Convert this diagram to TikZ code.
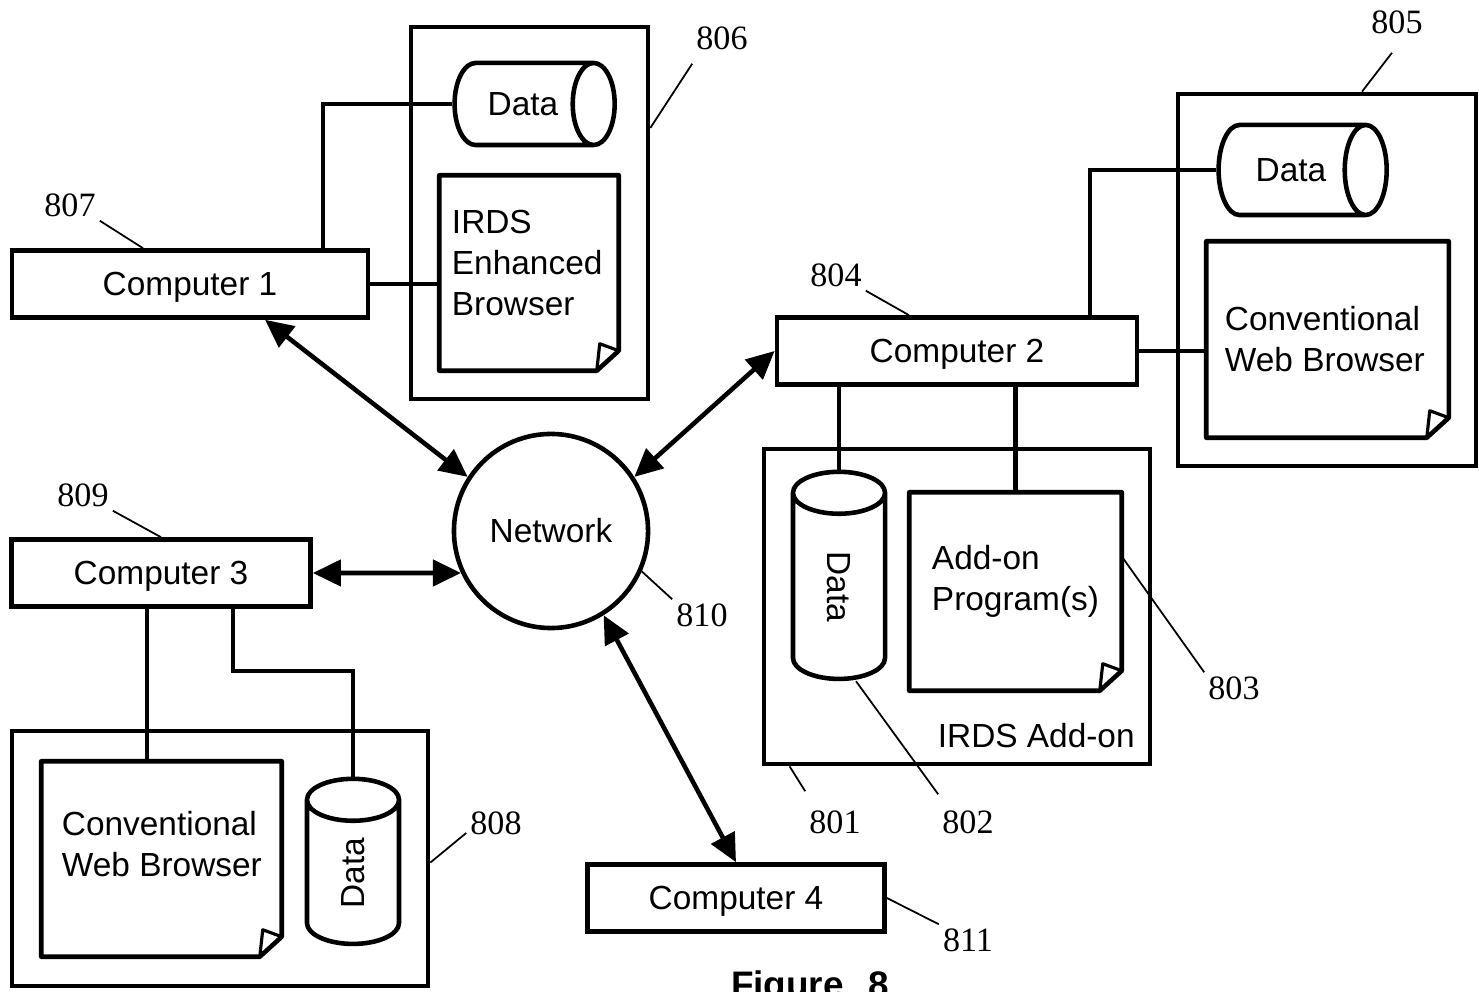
\documentclass[tikz,border=0pt]{standalone}
\usepackage{graphicx}
\usepackage{fontspec}
\setmainfont{Liberation Serif}
\setsansfont{Liberation Sans}
\usetikzlibrary{shapes.geometric,arrows.meta,positioning}

\tikzset{
  box/.style={draw, line width=1.3pt},
  comp/.style={box, minimum height=0.67cm, inner sep=0pt, text depth=0pt, font=\sffamily\fontsize{9.5}{11.7}\selectfont},
  group/.style={box, inner sep=0pt},
  data/.style={cylinder, box, aspect=1.8, inner sep=0pt, fill=white, font=\sffamily\fontsize{9.5}{11.7}\selectfont},
  sheet/.style={inner sep=0pt},
  sheettext/.style={inner sep=0pt, align=left, font=\sffamily\fontsize{9.5}{11.7}\selectfont},
  lbl/.style={inner sep=1pt, font=\rmfamily\fontsize{9.7}{11}\selectfont},
  lead/.style={line width=0.5pt},
  wire/.style={line width=1.3pt},
  link/.style={line width=1.3pt, {Triangle[length=2.8mm,width=2.6mm]}-{Triangle[length=2.8mm,width=2.6mm]}}
}

\begin{document}
\begin{tikzpicture}[x=0.01cm, y=-0.01cm]
   \useasboundingbox (0,0) rectangle (1479,992);
   \clip (0,0) rectangle (1479,992);
   % containers
   \foreach \pos/\name/\w/\h in {{(529.5,213)/f806/2.37cm/3.72cm}, {(1327,280)/f805/2.98cm/3.72cm},
                                 {(957,606.5)/f801/3.86cm/3.15cm}, {(220,858.5)/f808/4.16cm/2.55cm}}
   \node[group, minimum width=\w, minimum height=\h] (\name) at \pos {};
   % computers
   \foreach \pos/\name/\disp/\w in {{(190,284)/c1/Computer 1/3.56cm}, {(957,351)/c2/Computer 2/3.60cm},
                                    {(161,573)/c3/Computer 3/2.99cm}, {(736,898)/c4/Computer 4/2.97cm}}
   \node[comp, minimum width=\w] (\name) at \pos {\disp};
   \node[circle, box, minimum size=1.94cm, inner sep=0pt, font=\sffamily\fontsize{9.5}{11.7}\selectfont] (net) at (551,531) {Network};
   % storage (minimum height runs along the cylinder axis)
   \node[data, minimum width=0.82cm, minimum height=1.6cm] (d806) at (523,104) {Data};
   \node[data, minimum width=0.9cm, minimum height=1.68cm] (d805) at (1291,170) {Data};
   \node[data, shape border rotate=90, minimum width=0.92cm, minimum height=2.07cm] (d801) at (839,587) {\rotatebox{-90}{Data}};
   \node[data, shape border rotate=90, minimum width=0.92cm, minimum height=1.65cm] (d808) at (353,873) {\rotatebox{90}{Data}};
   % browser / program sheets
   \foreach \pos/\name/\w/\h in {{(529,273)/p806/1.78cm/1.94cm}, {(1327.5,339.5)/p805/2.41cm/1.95cm},
                                 {(1015.5,591.5)/p801/2.11cm/1.97cm}, {(161.5,859)/p808/2.39cm/1.94cm}}
   \node[sheet, minimum width=\w, minimum height=\h] (\name) at \pos {};
   \foreach \s in {p806,p805,p801,p808} {
     \draw[box, line join=round] (\s.north west) -- (\s.north east) -- ([yshift=0.2cm]\s.south east)
       -- ([xshift=-0.22cm]\s.south east) -- (\s.south west) -- cycle;
     \draw[line width=0.9pt, line join=round] ([yshift=0.2cm]\s.south east) -- ([xshift=-0.19cm,yshift=0.27cm]\s.south east)
       -- ([xshift=-0.22cm]\s.south east);
   }
   \node[sheettext, below right=0.34cm and 0.12cm of p806.north west] (t806) {IRDS\\Enhanced\\Browser};
   \node[sheettext, below right=0.64cm and 0.18cm of p805.north west] (t805) {Conventional\\Web Browser};
   \node[sheettext, below right=0.52cm and 0.22cm of p801.north west] (t801) {Add-on\\Program(s)};
   \node[sheettext, below right=0.49cm and 0.20cm of p808.north west] (t808) {Conventional\\Web Browser};
   \node[sheettext, above left=0.18cm and 0.17cm of f801.south east] (g801) {IRDS Add-on};
   % wiring to storage and browsers
   \draw[wire] ([xshift=1.33cm]c1.north) |- (d806.west);
   \draw[wire] (c1.east) -- (c1.east -| p806.west);
   \draw[wire] ([xshift=1.33cm]c2.north) |- (d805.west);
   \draw[wire] (c2.east) -- (c2.east -| p805.west);
   \draw[wire] (c2.south -| d801.north) -- (d801.north);
   \draw[wire] (c2.south -| p801.north) -- (p801.north);
   \coordinate (j3) at ([xshift=-0.14cm]c3.south);
   \draw[wire] (j3) -- (j3 |- p808.north);
   \draw[wire] ([xshift=0.72cm]c3.south) -- ++(0,-0.62cm) -| (d808.north);
   % network links
   \draw[link] ([xshift=0.75cm]c1.south) -- (net.147);
   \draw[link] (c2.west) -- (net.33);
   \draw[link] (c3.east) -- (net.205);
   \draw[link] (c4.north) -- (net.302);
   % reference numbers
   \foreach \pos/\name/\num in {{(722,38)/l806/806}, {(1397,22)/l805/805}, {(70,205)/l807/807}, {(836,275)/l804/804},
                                {(83,495)/l809/809}, {(702,615)/l810/810}, {(1234,688)/l803/803}, {(968,822)/l802/802},
                                {(835,822)/l801/801}, {(496,823)/l808/808}, {(968,940)/l811/811}}
   \node[lbl] (\name) at \pos {\num};
   \draw[lead] ([yshift=-0.1cm]l806.south west) -- ([yshift=0.85cm]f806.east);
   \draw[lead] ([xshift=-0.05cm,yshift=-0.15cm]l805.south) -- ([xshift=0.35cm]f805.north);
   \draw[lead] (l807.south east) -- ([xshift=-0.47cm]c1.north);
   \draw[lead] (l804.south east) -- ([xshift=-0.48cm]c2.north);
   \draw[lead] (l809.south east) -- (c3.north);
   \draw[lead] (l810.north west) -- (net.-24);
   \draw[lead] (l803.north west) -- ([yshift=0.35cm]p801.east);
   \draw[lead] ([yshift=0.12cm]l802.north west) -- ([xshift=0.17cm]d801.south);
   \draw[lead] ([yshift=0.15cm]l801.north west) -- ([xshift=0.28cm]f801.south west);
   \draw[lead] ([yshift=-0.1cm]l808.west) -- ([yshift=-0.04cm]f808.east);
   \draw[lead] (l811.north west) -- (c4.east);
   \node[anchor=north, inner sep=0pt, font=\sffamily\bfseries\fontsize{10.5}{12}\selectfont] (fig) at (810,970) {Figure\hspace{7pt}8};
\end{tikzpicture}
\end{document}
